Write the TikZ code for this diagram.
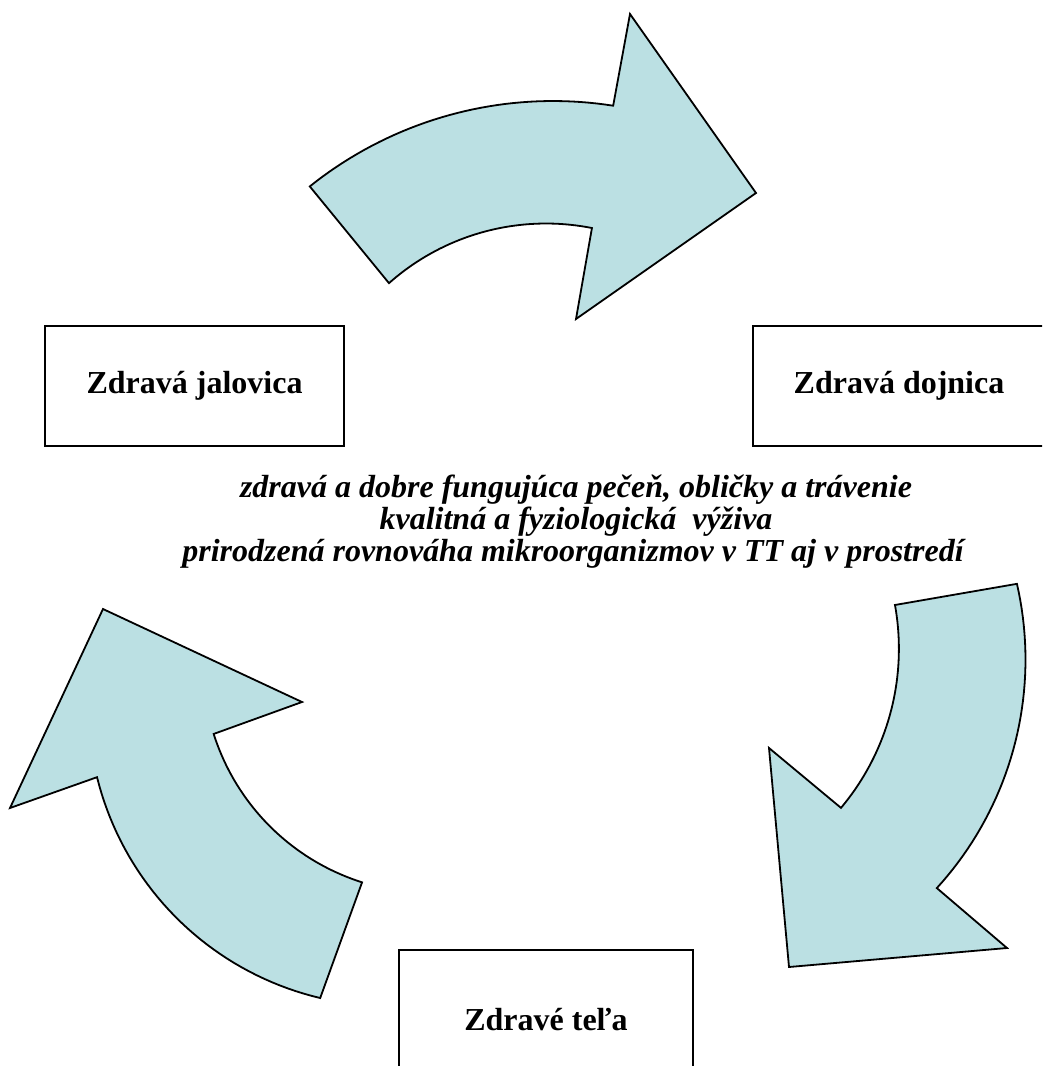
\documentclass[tikz,border=0pt]{standalone}
\usepackage{fontspec}
\setmainfont{Liberation Serif}
\definecolor{arrowfill}{RGB}{187,224,227}
\begin{document}
\begin{tikzpicture}[x=1pt,y=-1pt,
  arrowshape/.style={fill=arrowfill,draw=black,line width=1.8pt,line join=miter},
  labelbox/.style={draw=black,line width=2pt,rectangle,inner sep=0pt,
     font=\fontsize{32}{36}\selectfont\bfseries},
  itline/.style={font=\fontsize{32}{32}\selectfont\bfseries\itshape,inner sep=0pt,anchor=base}]
\useasboundingbox (0,0) rectangle (1042,1066);
\clip (0,0) rectangle (1042,1066);
% top arrow (Zdrava jalovica -> Zdrava dojnica)
\draw[arrowshape]
  plot[domain=-128.7:-81.1,samples=40,variable=\t] ({553+389*cos(\t)},{490+389*sin(\t)})
  -- (630,14) -- (756,193) -- (576,319)
  -- plot[domain=-78.8:-131.6,samples=40,variable=\t] ({546+236.5*cos(\t)},{460+236.5*sin(\t)})
  -- cycle;
% right arrow (Zdrava dojnica -> Zdrave tela)
\draw[arrowshape]
  plot[domain=-12.9:42.4,samples=40,variable=\t] ({686.5+339*cos(\t)},{659.5+339*sin(\t)})
  -- (1007,948) -- (789,967) -- (769,748)
  -- plot[domain=40:-10.2,samples=40,variable=\t] ({651.4+247.5*cos(\t)},{648.8+247.5*sin(\t)})
  -- cycle;
% left arrow (Zdrave tela -> Zdrava jalovica)
\draw[arrowshape]
  plot[domain=107.6:162.4,samples=40,variable=\t] ({431+228*cos(\t)},{665+228*sin(\t)})
  -- (302,702) -- (103,609) -- (10,808)
  -- plot[domain=166.1:103.3,samples=40,variable=\t] ({389.5+301.3*cos(\t)},{704.8+301.3*sin(\t)})
  -- cycle;
% boxes
\node[labelbox,minimum width=299pt,minimum height=120pt] (jalovica) at (194.5,386) {Zdravá jalovica};
\node[labelbox,minimum width=292pt,minimum height=120pt] (dojnica) at (899,386) {Zdravá dojnica};
\node[labelbox,minimum width=294pt,minimum height=140pt] (tela) at (546,1020) {Zdravé teľa};
% central text
\node[itline] (l1) at (576,497) {zdravá a dobre fungujúca pečeň, obličky a trávenie};
\node[itline] (l2) at (576,529) {kvalitná a fyziologická\ \ výživa};
\node[itline] (l3) at (573,561) {prirodzená rovnováha mikroorganizmov v TT aj v prostredí};
\end{tikzpicture}
\end{document}
